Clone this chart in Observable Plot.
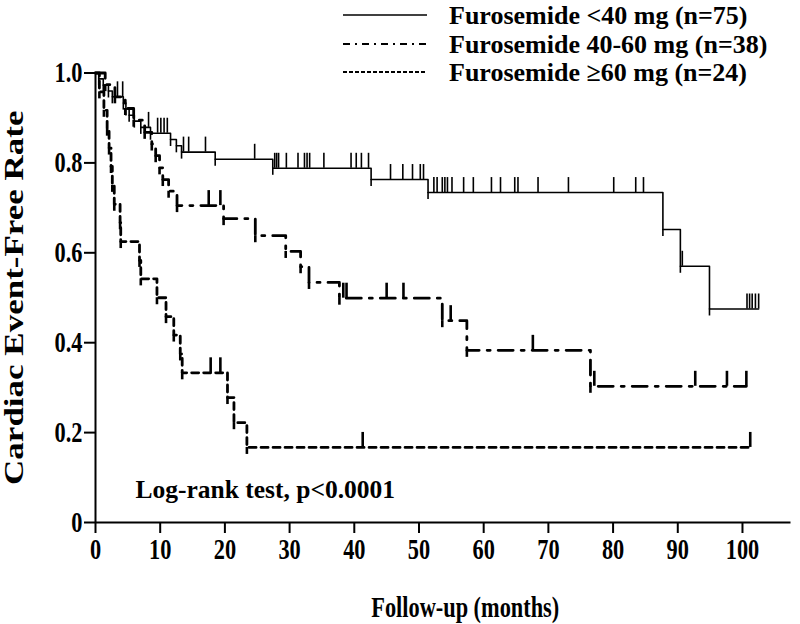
<!DOCTYPE html>
<html>
<head>
<meta charset="utf-8">
<script src="https://cdn.jsdelivr.net/npm/d3@7"></script>
<script src="https://cdn.jsdelivr.net/npm/@observablehq/plot@0.6"></script>
<style>
  body { margin: 0; background: #fff; }
  #wrap { position: relative; width: 800px; height: 624px; overflow: hidden; background: #fff; }
  #wrap svg { position: absolute; left: 0; top: 0; }
</style>
</head>
<body>
<div id="wrap"></div>
<script>
// ---------- data ----------
const seriesNames = ["Furosemide <40 mg (n=75)", "Furosemide 40-60 mg (n=38)", "Furosemide \u226560 mg (n=24)"];

// Furosemide <40 mg: step times (months) and survival after each step
const t1 = [0, 0.5, 1.2, 2.0, 2.6, 4.3, 4.7, 5.2, 6.0, 7.0, 8.5, 11.6, 12.5, 13.3, 18.5, 27.4, 42.6, 51.4, 87.7, 90.4, 94.9];
const s1 = [1.000, 0.987, 0.973, 0.960, 0.947, 0.933, 0.920, 0.906, 0.893, 0.879, 0.866, 0.852, 0.838, 0.824, 0.808, 0.788, 0.763, 0.734, 0.652, 0.570, 0.475];
const c1 = [3.4, 4.2, 8.2, 9.6, 10.1, 10.6, 11.1, 13.6, 14.4, 17.0, 24.6, 27.7, 28.0, 28.3, 29.5, 31.3, 32.3, 32.7, 33.1, 35.3, 39.5, 40.3, 41.1, 42.2, 45.6, 47.5, 49.0, 50.2, 50.7, 52.3, 52.8, 53.6, 54.0, 54.4, 55.1, 56.9, 58.4, 61.2, 62.6, 64.8, 65.3, 68.4, 73.1, 80.1, 83.5, 84.7, 90.7, 100.7, 101.1, 101.5, 102.0, 102.5];
const end1 = 102.5;

// Furosemide 40-60 mg
const t2 = [0, 1.5, 3.0, 4.6, 5.9, 7.6, 8.7, 9.3, 9.9, 10.4, 11.3, 12.6, 19.8, 24.7, 29.4, 31.7, 33.0, 37.7, 53.6, 57.4, 76.5];
const s2 = [1.000, 0.974, 0.947, 0.921, 0.895, 0.868, 0.842, 0.816, 0.789, 0.763, 0.737, 0.705, 0.676, 0.638, 0.603, 0.569, 0.534, 0.499, 0.449, 0.383, 0.303];
const c2 = [17.5, 19.3, 38.3, 38.8, 45.0, 47.6, 54.9, 67.6, 77.1, 92.7, 97.6, 100.6];
const end2 = 100.6;

// Furosemide >=60 mg
const t3 = [0, 0.6, 1.3, 1.8, 2.1, 2.4, 2.6, 2.9, 3.8, 3.9, 6.8, 7.0, 9.5, 10.9, 12.1, 13.1, 13.4, 20.4, 21.4, 23.4];
const s3 = [1.000, 0.958, 0.917, 0.875, 0.833, 0.792, 0.750, 0.708, 0.667, 0.625, 0.583, 0.542, 0.500, 0.458, 0.417, 0.375, 0.333, 0.278, 0.222, 0.167];
const c3 = [17.8, 19.3, 41.3, 101.2];
const end3 = 101.2;

const xTicks = [0, 10, 20, 30, 40, 50, 60, 70, 80, 90, 100];
const xTickLabels = ["0", "10", "20", "30", "40", "50", "60", "70", "80", "90", "100"];
const yTicks = [0, 0.2, 0.4, 0.6, 0.8, 1.0];
const yTickLabels = ["0", "0.2", "0.4", "0.6", "0.8", "1.0"];
const xLabel = "Follow-up (months)";
const yLabel = "Cardiac Event-Free Rate";
const note = "Log-rank test, p<0.0001";

// ---------- styles (kept apart from data) ----------
const lineStyles = [
  {dash: null, width: 1.6, tick: 1.6, legendDash: null},
  {dash: "15,8,3,8", width: 2.8, tick: 2.6, legendDash: "7,5,2,5"},
  {dash: "7,5", width: 2.8, tick: 2.6, legendDash: "4,2"}
];

// ---------- helpers that build tables from the arrays ----------
function stepRows(t, s, end) {
  const rows = t.map((ti, i) => ({t: ti, s: s[i]}));
  rows.push({t: end, s: s[s.length - 1]});
  return rows;
}
function levelAt(t, s, x) {
  let v = s[0];
  for (let i = 0; i < t.length; i++) if (t[i] <= x) v = s[i];
  return v;
}
function censorRows(c, t, s) { return c.map(x => ({t: x, s: levelAt(t, s, x)})); }
function dropRows(t, s) { return t.slice(1).map((ti, i) => ({t: ti, s: s[i + 1]})); }

const series = [
  {steps: stepRows(t1, s1, end1), cens: censorRows(c1, t1, s1), drops: dropRows(t1, s1)},
  {steps: stepRows(t2, s2, end2), cens: censorRows(c2, t2, s2), drops: dropRows(t2, s2)},
  {steps: stepRows(t3, s3, end3), cens: censorRows(c3, t3, s3), drops: dropRows(t3, s3)}
];

const curveMarks = series.flatMap((sr, i) => {
  const st = lineStyles[i];
  return [
    Plot.line(sr.steps, {x: "t", y: "s", curve: "step-after", stroke: "#000", strokeWidth: st.width, strokeDasharray: st.dash}),
    Plot.ruleX(sr.cens, {x: "t", y1: "s", y2: "s", insetTop: -15, stroke: "#000", strokeWidth: st.tick}),
    Plot.ruleX(sr.drops, {x: "t", y1: "s", y2: "s", insetBottom: -7, stroke: "#000", strokeWidth: st.tick})
  ];
});

const chart = Plot.plot({
  width: 800,
  height: 624,
  marginLeft: 95,
  marginRight: 9.5,
  marginTop: 72.5,
  marginBottom: 102,
  x: {domain: [0, 107.5]},
  y: {domain: [0, 1]},
  style: {fontFamily: "'Liberation Serif', 'Times New Roman', serif", fontWeight: "bold", color: "#000", background: "transparent"},
  marks: [
    Plot.axisX({ticks: xTicks, tickFormat: d => xTickLabels[xTicks.indexOf(d)], tickSize: 11, tickPadding: 5, fontSize: 29, strokeWidth: 2, label: null}),
    Plot.axisY({ticks: yTicks, tickFormat: d => yTickLabels[yTicks.indexOf(d)], tickSize: 11, tickPadding: 2, fontSize: 29, strokeWidth: 2, label: null}),
    Plot.ruleY([0], {stroke: "#000", strokeWidth: 2}),
    Plot.ruleX([0], {stroke: "#000", strokeWidth: 2}),
    ...curveMarks,
    Plot.text([yLabel], {text: d => d, frameAnchor: "left", textAnchor: "middle", rotate: -90, dx: -81, lineAnchor: "middle", fontSize: 35, ariaLabel: "y-label"}),
    Plot.text([xLabel], {text: d => d, frameAnchor: "bottom", textAnchor: "middle", dx: 22, dy: 85, lineAnchor: "middle", fontSize: 29, ariaLabel: "x-label"}),
    Plot.text([note], {text: d => d, frameAnchor: "bottom-left", textAnchor: "start", lineAnchor: "middle", dx: 40, dy: -33, fontSize: 25.5, ariaLabel: "note"})
  ]
});

const wrap = document.getElementById("wrap");
wrap.appendChild(chart);

// The reference's axis type is tall and narrow: squeeze it.
function squeeze(el, sx, sy) {
  const t = el.getAttribute("transform") || "";
  const x = +el.getAttribute("x") || 0, y = +el.getAttribute("y") || 0;
  el.setAttribute("transform", `${t} translate(${x},${y}) scale(${sx},${sy}) translate(${-x},${-y})`);
}
const tickSet = new Set([...xTickLabels, ...yTickLabels]);
chart.querySelectorAll("text").forEach(el => {
  const txt = el.textContent;
  if (txt === yLabel) squeeze(el, 1, 0.77);
  else if (txt === xLabel || tickSet.has(txt)) squeeze(el, 0.77, 1);
});

// ---------- legend (top right, over the chart) ----------
const legY = [15, 44, 72];
const leg = d3.select(wrap).append("svg").attr("width", 800).attr("height", 100);
const row = leg.selectAll("g").data(seriesNames).join("g");
row.append("line")
  .attr("x1", 343).attr("x2", 427)
  .attr("y1", (d, i) => legY[i]).attr("y2", (d, i) => legY[i])
  .attr("stroke", "#000")
  .attr("stroke-width", (d, i) => i === 0 ? 1.6 : 2.2)
  .attr("stroke-dasharray", (d, i) => lineStyles[i].legendDash);
row.append("text")
  .attr("x", 449).attr("y", (d, i) => legY[i]).attr("dy", "0.35em")
  .attr("font-family", "'Liberation Serif', 'Times New Roman', serif")
  .attr("font-weight", "bold").attr("font-size", 26).attr("fill", "#000")
  .text(d => d);
</script>
</body>
</html>
